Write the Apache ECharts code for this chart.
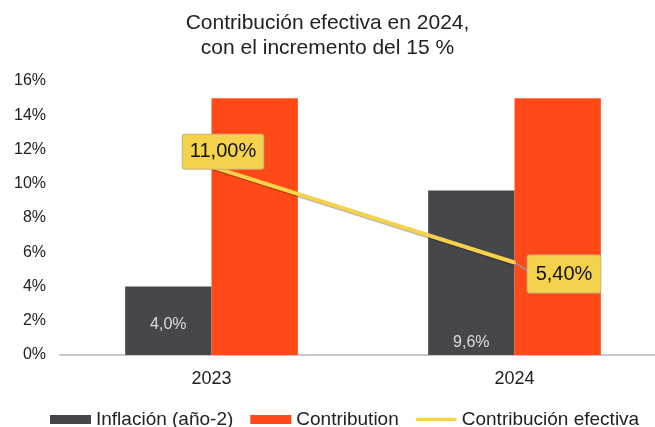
<!DOCTYPE html>
<html>
<head>
<meta charset="utf-8">
<style>
body { margin: 0; background: #fff; }
#chart { width: 655px; height: 427px; }
</style>
<script src="https://cdn.jsdelivr.net/npm/echarts@6/dist/echarts.min.js"></script>
</head>
<body>
<div id="chart"></div>
<script type="text/javascript">
var years = ['2023', '2024'];
var inflacion = [4.0, 9.6];
var contribution = [15, 15];
var efectiva = [11.0, 5.4];

var inflacionLabels = ['4,0%', '9,6%'];
var efectivaLabels = ['11,00%', '5,40%'];

var myChart = echarts.init(document.getElementById('chart'));
var font = 'Liberation Sans, Arial, sans-serif';

// thin rounded bar for the line legend item (M points set the 0..44 x 9 box)
var lineIcon = 'path://M0,0 M44,9 M2,2.5 H42 A2,2 0 0 1 42,6.5 H2 A2,2 0 0 1 2,2.5 Z';

var option = {
  textStyle: { fontFamily: font },
  title: {
    text: 'Contribución efectiva en 2024,\ncon el incremento del 15 %',
    left: 'center',
    top: 6,
    textStyle: { fontFamily: font, fontSize: 21, fontWeight: 'normal', color: '#222', lineHeight: 25 }
  },
  legend: {
    top: 405,
    left: 45,
    itemWidth: 41,
    itemHeight: 9,
    itemGap: 17,
    textStyle: { fontFamily: font, fontSize: 19, color: '#222' },
    data: [
      { name: 'Inflación (año-2)', icon: 'rect' },
      { name: 'Contribution', icon: 'rect' },
      { name: 'Contribución efectiva', icon: lineIcon, itemStyle: { color: '#f5d24b', opacity: 1 } }
    ]
  },
  grid: { left: 60, top: 81, width: 606, height: 274, outerBoundsMode: 'none' },
  xAxis: {
    type: 'category',
    data: years,
    axisLine: { lineStyle: { color: '#c8c8c8', width: 2 } },
    axisTick: { show: false },
    axisLabel: { fontSize: 18, color: '#222', margin: 15 }
  },
  yAxis: {
    type: 'value',
    min: 0,
    max: 16,
    interval: 2,
    splitLine: { show: false },
    axisLine: { show: false },
    axisLabel: { formatter: '{value}%', fontSize: 16, color: '#222', margin: 14 }
  },
  series: [
    {
      name: 'Inflación (año-2)',
      type: 'bar',
      barGap: 0,
      barCategoryGap: '43%',
      itemStyle: { color: '#46474b' },
      data: inflacion.map(function (v, i) {
        return {
          value: v,
          label: {
            show: true,
            position: 'insideBottom',
            distance: i === 0 ? 22 : 4,
            formatter: inflacionLabels[i],
            color: '#dcdcdc',
            fontSize: 16
          }
        };
      })
    },
    {
      name: 'Contribution',
      type: 'bar',
      itemStyle: { color: '#ff4a17' },
      data: contribution
    },
    {
      name: 'Contribución efectiva',
      type: 'line',
      symbol: 'circle',
      symbolSize: 3,
      showSymbol: true,
      z: 5,
      itemStyle: { color: '#f5d24b' },
      lineStyle: { color: '#f5d24b', width: 4, shadowColor: 'rgba(0,0,0,0.35)', shadowBlur: 1, shadowOffsetY: 1 },
      labelLine: { show: false },
      data: efectiva.map(function (v, i) {
        return {
          value: v,
          labelLine: { show: i === 1, lineStyle: { color: '#999', width: 1.5 } },
          label: {
            show: true,
            position: 'inside',
            offset: i === 0 ? [11.5, -15] : [49.5, 11.5],
            formatter: efectivaLabels[i],
            fontSize: 20,
            color: '#111',
            backgroundColor: '#f5d24b',
            borderColor: '#c8b27a',
            borderWidth: 1,
            borderRadius: 2,
            padding: i === 0 ? [8, 7, 6, 7] : [10, 8, 7, 8]
          }
        };
      })
    }
  ]
};

myChart.setOption(option, true);
</script>
</body>
</html>
